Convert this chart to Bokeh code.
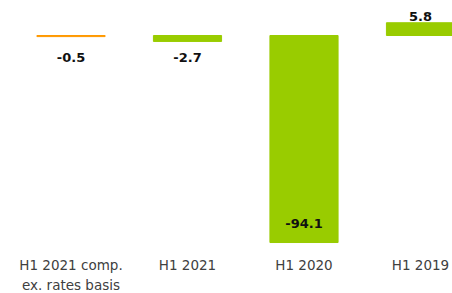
from bokeh.plotting import figure
from bokeh.models import ColumnDataSource, Range1d
from bokeh.core.properties import value
from bokeh.embed import file_html
from bokeh.resources import INLINE

categories = ["H1 2021 comp.\nex. rates basis", "H1 2021", "H1 2020", "H1 2019"]
values = [-0.5, -2.7, -94.1, 5.8]
value_labels = ["-0.5", "-2.7", "-94.1", "5.8"]
bar_colors = ["#FF9900", "#99CC00", "#99CC00", "#99CC00"]

xs = list(range(len(categories)))
label_y = [v + 2.85 if v > 0 else (v + 8.65 if v < -50 else -10.0) for v in values]

src = ColumnDataSource(dict(x=xs, top=values, color=bar_colors, lbl=value_labels,
                            ly=label_y, cat=categories, cy=[-100.9] * len(xs)))

p = figure(width=452, height=293, output_backend="svg", toolbar_location=None,
           x_range=Range1d(-0.6052, 3.2747), y_range=Range1d(-117.27, 15.91),
           min_border=0, outline_line_color=None)
p.xaxis.visible = False
p.yaxis.visible = False
p.grid.visible = False

p.vbar(x="x", top="top", bottom=0, width=0.585, fill_color="color", line_color="color",
       line_width=1, source=src)

p.text(x="x", y="ly", text="lbl", source=src, text_align="center", text_baseline="middle",
       text_font=value("DejaVu Sans"), text_font_style="bold", text_font_size="13px",
       text_color="#111111")

p.text(x="x", y="cy", text="cat", source=src, text_align="center", text_baseline="top",
       text_font=value("DejaVu Sans"), text_font_size="13.5px", text_color="#404040",
       text_line_height=1.2)

open("out.html", "w").write(file_html(p, INLINE))
